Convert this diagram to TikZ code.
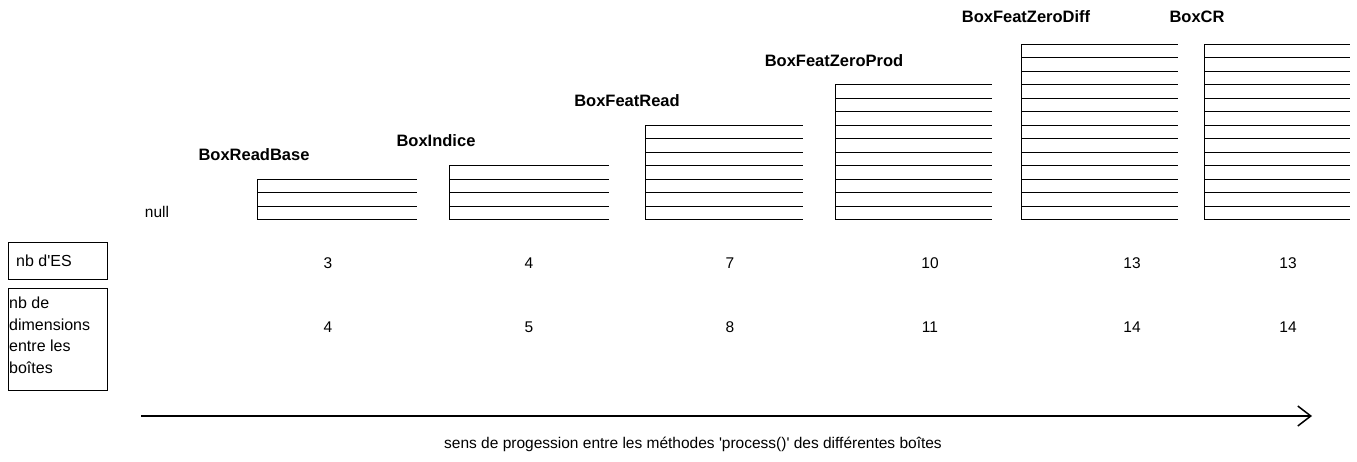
\documentclass[tikz,border=0pt]{standalone}
\usepackage{fontspec}
\setmainfont{Liberation Sans}
\usetikzlibrary{arrows.meta}
\tikzset{
  boxlbl/.style={inner sep=0pt, anchor=center, font=\fontsize{16.5}{18}\selectfont\bfseries},
  numlbl/.style={inner sep=0pt, anchor=center, font=\fontsize{15.5}{18}\selectfont},
  txt/.style={inner sep=0pt, font=\fontsize{15.5}{18}\selectfont},
  rowline/.style={line width=1.3pt, black},
  sidebox/.style={draw, line width=1.1pt, black, minimum width=99pt, inner sep=0pt},
}
\begin{document}
\begin{tikzpicture}[x=1pt,y=-1pt]
\useasboundingbox (0,0) rectangle (1357,461);
% stacked boxes: name/left/right/number of rows
\foreach \nm/\l/\r/\n in {rb/257/417/3, ind/449/609/4, fr/645/803/7, zp/835/992/10, zd/1021/1178/13, cr/1204/1350/13}{
  \pgfmathsetmacro{\top}{round(219-13.5*\n)+0.5}
  \coordinate (\nm-tl) at (\l+0.5,\top);
  \coordinate (\nm-bl) at (\l+0.5,219.5);
  \draw[rowline] (\nm-tl) -- (\nm-bl);
  \foreach \k in {0,...,\n}{
    \pgfmathsetmacro{\yy}{round(219-13.5*\k)+0.5}
    \draw[rowline] (\l,\yy) -- (\r,\yy);
  }
}
% box titles
\node[boxlbl] (t-rb) at (254,155) {BoxReadBase};
\node[boxlbl] (t-ind) at (436,141) {BoxIndice};
\node[boxlbl] (t-fr) at (627,101) {BoxFeatRead};
\node[boxlbl] (t-zp) at (834,61) {BoxFeatZeroProd};
\node[boxlbl] (t-zd) at (1026,17) {BoxFeatZeroDiff};
\node[boxlbl] (t-cr) at (1197,17) {BoxCR};
\node[txt] (null) at (157,212) {null};
% side boxes
\node[sidebox, minimum height=37pt, anchor=north west] (es) at (8,242) {};
\node[txt, anchor=west, font=\fontsize{16}{18}\selectfont] (es-t) at (16,261) {nb d\textquotesingle ES};
\node[sidebox, minimum height=102pt, anchor=north west] (dim) at (8,288) {};
\node[txt, anchor=north west, align=left, font=\fontsize{16}{21.5}\selectfont] (dim-t) at (9,297) {nb de\\dimensions\\entre les\\boîtes};
% numbers
\foreach \nm/\x/\a/\b in {1/328/3/4, 2/529/4/5, 3/730/7/8, 4/930/10/11, 5/1132/13/14, 6/1288/13/14}{
  \node[numlbl] (es\nm) at (\x,263) {\a};
  \node[numlbl] (dim\nm) at (\x,327) {\b};
}
% progression arrow
\coordinate (arrS) at (141,416);
\coordinate (arrE) at (1312,416);
\draw[line width=2pt, -{Straight Barb[length=13pt,width=20pt,line width=1.5pt]}] (arrS) -- (arrE);
\node[txt] (cap) at (693,444) {sens de progession entre les méthodes \textquotesingle process()\textquotesingle{} des différentes boîtes};
\end{tikzpicture}
\end{document}
